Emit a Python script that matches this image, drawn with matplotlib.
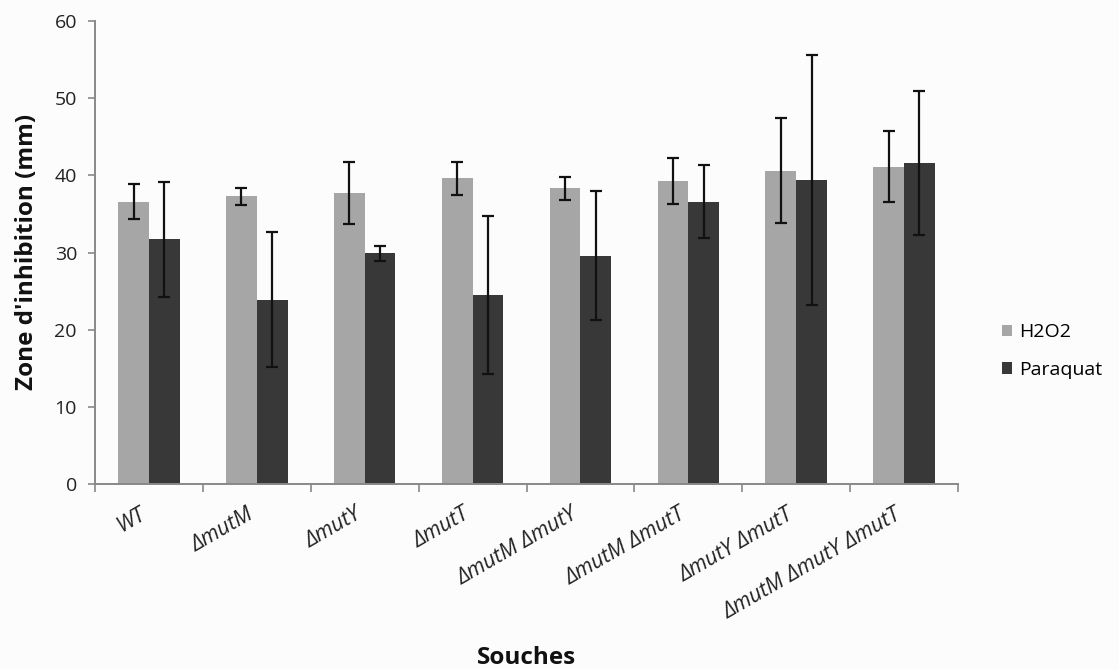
import numpy as np
import matplotlib
matplotlib.use("Agg")
import matplotlib.pyplot as plt
from matplotlib.transforms import ScaledTranslation

strains = ["WT", "ΔmutM", "ΔmutY", "ΔmutT", "ΔmutM ΔmutY",
           "ΔmutM ΔmutT", "ΔmutY ΔmutT", "ΔmutM ΔmutY ΔmutT"]
h2o2 = [36.6, 37.3, 37.7, 39.6, 38.3, 39.3, 40.6, 41.1]
h2o2_err = [2.3, 1.1, 4.0, 2.1, 1.5, 3.0, 6.8, 4.6]
paraquat = [31.7, 23.9, 29.9, 24.5, 29.6, 36.6, 39.4, 41.6]
paraquat_err = [7.5, 8.7, 1.0, 10.2, 8.4, 4.7, 16.2, 9.3]

plt.rcParams["font.family"] = ["Open Sans", "DejaVu Sans"]

W, H = 1119, 670
fig = plt.figure(figsize=(W / 100, H / 100), dpi=100)
fig.patch.set_facecolor("#fcfcfc")
ax = fig.add_axes([95 / W, 1 - 484 / H, (958 - 95) / W, (484 - 21) / H])
ax.set_facecolor("#fcfcfc")

x = np.arange(len(strains))
w = 0.285
err_kw = dict(ecolor="#111111", elinewidth=1.6, capsize=4, capthick=1.6)
ax.bar(x - w / 2, h2o2, w, yerr=h2o2_err, color="#a6a6a6", label="H2O2", error_kw=err_kw)
ax.bar(x + w / 2, paraquat, w, yerr=paraquat_err, color="#383838", label="Paraquat", error_kw=err_kw)

ax.set_xlim(-0.5, len(strains) - 0.5)
ax.set_ylim(0, 60)
ax.set_yticks(range(0, 61, 10))
ax.tick_params(axis="y", labelsize=14, length=5, width=1.2, color="#888888",
               labelcolor="#222222", pad=8)
ax.set_xticks(x)
ax.set_xticklabels([])
ax.tick_params(axis="x", length=0)
ax.set_xticks(np.arange(-0.5, len(strains), 1), minor=True)
ax.tick_params(axis="x", which="minor", length=6, width=1.2, color="#888888")

# rotated strain names, right end sitting just under each group
shift = ScaledTranslation(-0.10, -0.20, fig.dpi_scale_trans)
for xi, name in zip(x, strains):
    ax.text(xi, 0, name, transform=ax.get_xaxis_transform() + shift,
            rotation=30, rotation_mode="anchor", ha="right", va="top",
            fontstyle="italic", fontsize=15.5, color="#222222")

for side in ["top", "right"]:
    ax.spines[side].set_visible(False)
for side in ["left", "bottom"]:
    ax.spines[side].set_color("#888888")
    ax.spines[side].set_linewidth(1.4)

fig.text(27 / W, 1 - 252 / H, "Zone d'inhibition (mm)", fontsize=17.5,
         fontweight="bold", rotation=90, ha="center", va="center", color="#111111")
fig.text(527 / W, 1 - 658 / H, "Souches", fontsize=17.5, fontweight="bold",
         ha="center", va="center", color="#111111")

ax.legend(loc="center left", bbox_to_anchor=(984 / W, 1 - 351 / H),
          bbox_transform=fig.transFigure, frameon=False, fontsize=14,
          handlelength=0.55, handleheight=0.55, handletextpad=0.35, labelspacing=1.0)

fig.savefig("out.png", dpi=100, facecolor=fig.get_facecolor())
